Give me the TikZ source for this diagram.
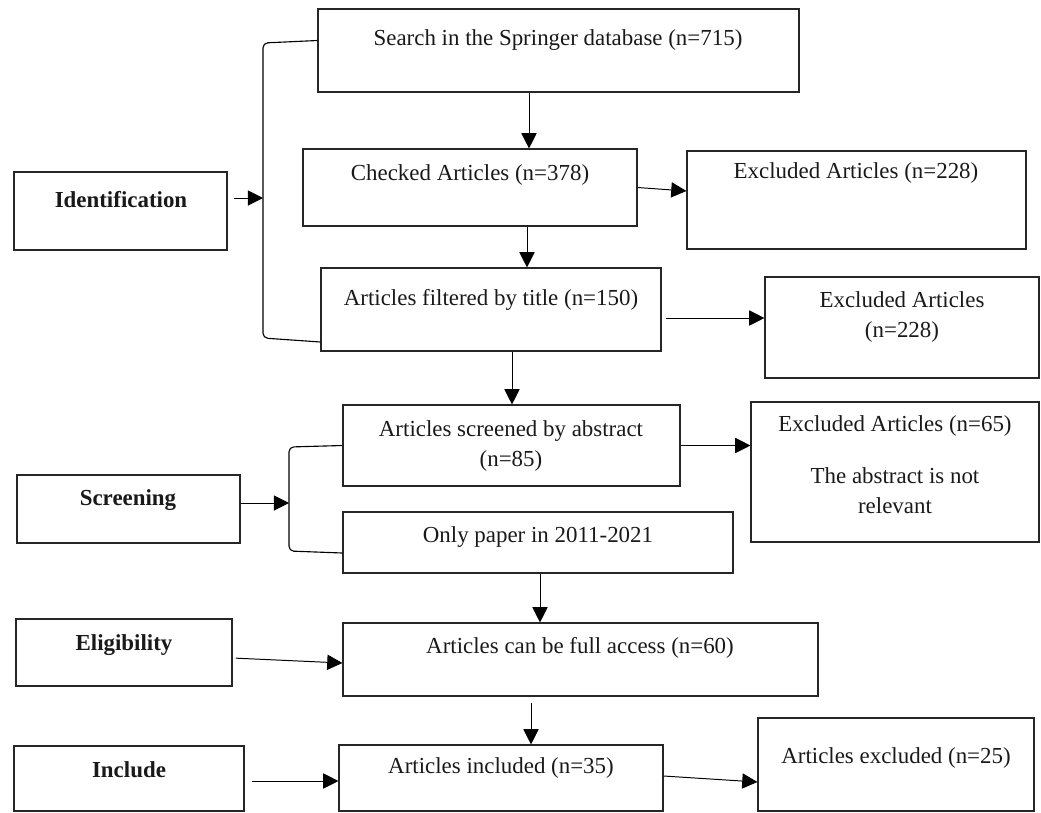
\documentclass[tikz,border=0pt]{standalone}
\usepackage{fontspec}
\setmainfont{Liberation Serif}
\usepackage{tikz}
\usetikzlibrary{arrows.meta}
\usetikzlibrary{fit}
\tikzset{
	box/.style = {draw=black!85, line width=0.8pt, inner sep=0pt},
	txt/.style = {inner sep=0pt, align=center, text=black!90, font=\fontsize{16.3}{21.3}\selectfont},
	stage/.style = {txt, font=\fontsize{16.3}{21.3}\selectfont\bfseries},
	arr/.style = {-{Triangle[length=3.8mm, width=3.8mm]}, line width=0.7pt},
	bracket/.style = {line width=0.8pt, rounded corners=0.12cm}
}

\begin{document}
\begin{tikzpicture}[x=0.025cm, y=-0.025cm]
	\useasboundingbox (0,0) rectangle (1041,812);
	% stages on the left
	\node[box, fit={(14,172) (227,250)}] (ident) {};
	\node[box, fit={(17,475) (240,543)}] (screening) {};
	\node[box, fit={(16,619) (232,686)}] (eligib) {};
	\node[box, fit={(14,746) (244,811)}] (include) {};
	\node[stage] (identt) at (121,200) {Identification};
	\node[stage] (screeningt) at (128,500) {Screening};
	\node[stage] (eligibt) at (124,645) {Eligibility};
	\node[stage] (includet) at (129,770) {Include};
	% main column
	\node[box, fit={(318,9) (799,92)}] (search) {};
	\node[box, fit={(303,149) (637,226)}] (checked) {};
	\node[box, fit={(321,268) (661,351)}] (filtered) {};
	\node[box, fit={(343,405) (680,486)}] (screened) {};
	\node[box, fit={(343,512) (733,573)}] (only) {};
	\node[box, fit={(343,623) (818,696)}] (full) {};
	\node[box, fit={(339,745) (663,811)}] (included) {};
	\node[txt] (searcht) at (558,40) {Search in the Springer database (n=715)};
	\node[txt] (checkedt) at (470,175) {Checked Articles (n=378)};
	\node[txt] (filteredt) at (491,300) {Articles filtered by title (n=150)};
	\node[txt] (screenedt) at (511,446) {Articles screened by abstract\\(n=85)};
	\node[txt] (onlyt) at (538,537) {Only paper in 2011-2021};
	\node[txt] (fullt) at (580,648) {Articles can be full access (n=60)};
	\node[txt] (includedt) at (501,768) {Articles included (n=35)};
	% excluded boxes
	\node[box, fit={(687,151) (1026,249)}] (excl1) {};
	\node[box, fit={(765,277) (1039,378)}] (excl2) {};
	\node[box, fit={(751,402) (1039,542)}] (excl3) {};
	\node[box, fit={(758,718) (1034,811)}] (excl4) {};
	\node[txt] (excl1t) at (856,173) {Excluded Articles (n=228)};
	\node[txt] (excl2t) at (902,317) {Excluded Articles\\(n=228)};
	\node[txt] (excl3t) at (895,465) {Excluded Articles (n=65)\\[15.6pt]The abstract is not\\relevant};
	\node[txt] (excl4t) at (896,758) {Articles excluded (n=25)};
	% brackets
	\coordinate (br1) at (263,198);
	\coordinate (br2) at (289,503);
	\draw[bracket] (search.west |- 0,40.5) -- (br1 |- 0,43) -- (br1 |- 0,338) -- (filtered.west |- 0,342);
	\draw[bracket] (screened.west) -- (br2 |- 0,447) -- (br2 |- 0,551) -- (only.west |- 0,553);
	% arrows
	\draw[arr, shorten <=0.15cm] (ident.east |- br1) -- (br1);
	\draw[arr] (screening.east |- br2) -- (br2);
	\draw[arr, shorten <=0.08cm] (eligib.east |- 0,658) -- (full.west |- 0,663);
	\draw[arr, shorten <=0.18cm] (include.east |- 0,781) -- (included.west |- 0,781);
	\draw[arr] (search.south -| 529,0) -- (checked.north -| 529,0);
	\draw[arr] (checked.south -| 527,0) -- (filtered.north -| 527,0);
	\draw[arr] (checked.east) -- (excl1.west |- 0,191);
	\draw[arr, shorten <=0.1cm] (filtered.east |- 0,318) -- (excl2.west |- 0,318);
	\draw[arr] (filtered.south -| 512,0) -- (screened.north -| 512,0);
	\draw[arr] (screened.east) -- (excl3.west |- screened.east);
	\draw[arr] (only.south -| 540,0) -- (full.north -| 540,0);
	\draw[arr, shorten <=0.15cm] (full.south -| 531,0) -- (included.north -| 531,0);
	\draw[arr] (included.east |- 0,776) -- (excl4.west |- 0,782);
\end{tikzpicture}
\end{document}
